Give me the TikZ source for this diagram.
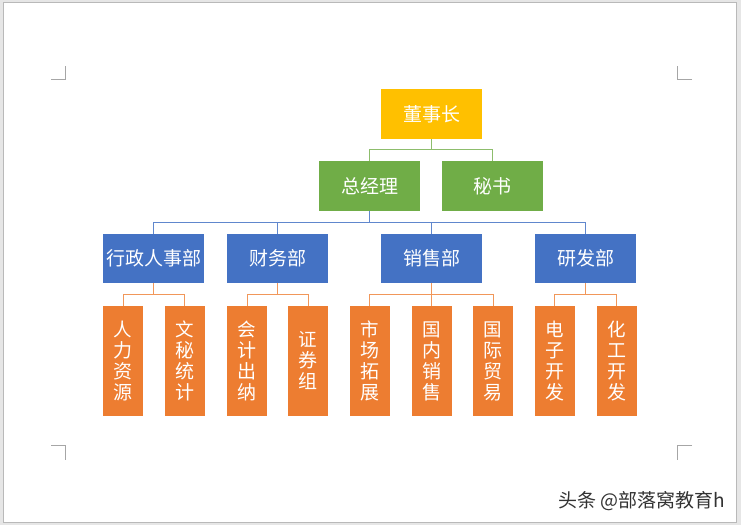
\documentclass[tikz,border=0pt]{standalone}
\usepackage{fontspec}
\newfontfamily\cjk{Noto Sans CJK SC}
\usepackage{xcolor,tikz}
\definecolor{bossyellow}{HTML}{FFC000}
\definecolor{mgrgreen}{HTML}{70AD47}
\definecolor{deptblue}{HTML}{4472C4}
\definecolor{unitorange}{HTML}{ED7D31}
\definecolor{pagegray}{HTML}{E6E6E6}
\newcommand{\vtext}[1]{\fontsize{18.5}{19.5}\selectfont #1}

\begin{document}
\begin{tikzpicture}[x=1pt,y=-1pt, font=\cjk,
                box/.style = {draw=none, text=white, inner sep=0pt, font=\cjk\fontsize{19}{21}\selectfont},
                boss/.style = {box, fill=bossyellow, minimum width=101pt, minimum height=50pt},
                manager/.style = {box, fill=mgrgreen, minimum width=101pt, minimum height=50pt},
                dept/.style = {box, fill=deptblue, minimum width=101pt, minimum height=49pt},
                unit/.style = {box, fill=unitorange, minimum width=40pt, minimum height=110pt, align=center},
                bossline/.style = {color=mgrgreen!80!white, line width=1pt},
                deptline/.style = {color=deptblue!85!white, line width=1pt},
                unitline/.style = {color=unitorange!80!white, line width=1pt},
                cropmark/.style = {color=gray!70, line width=0.8pt}]
                % page
                \fill[pagegray] (0,0) rectangle (741,525);
                \filldraw[fill=white, draw=gray!55, line width=0.6pt] (3,2) rectangle (736,522);
                \useasboundingbox (0,0) rectangle (741,525);
                % corner marks
                \draw[cropmark] (51,79) -- (65,79) -- (65,66);
                \draw[cropmark] (692,79) -- (677,79) -- (677,66);
                \draw[cropmark] (51,445) -- (65,445) -- (65,460);
                \draw[cropmark] (692,445) -- (677,445) -- (677,460);
                % boxes
                \node[boss] (1) at (431.5,114) {董事长};
                \node[manager] (2) at (369.5,186) {总经理};
                \node[manager] (3) at (492.5,186) {秘书};
                \node[dept] (4) at (153.5,258.5) {行政人事部};
                \node[dept] (5) at (277.5,258.5) {财务部};
                \node[dept] (6) at (431.5,258.5) {销售部};
                \node[dept] (7) at (585.5,258.5) {研发部};
                \node[unit] (8) at (123,361) {\vtext{人\\力\\资\\源}};
                \node[unit] (9) at (184.5,361) {\vtext{文\\秘\\统\\计}};
                \node[unit] (10) at (247,361) {\vtext{会\\计\\出\\纳}};
                \node[unit] (11) at (308,361) {\vtext{证\\券\\组}};
                \node[unit] (12) at (369.5,361) {\vtext{市\\场\\拓\\展}};
                \node[unit] (13) at (431.5,361) {\vtext{国\\内\\销\\售}};
                \node[unit] (14) at (493,361) {\vtext{国\\际\\贸\\易}};
                \node[unit] (15) at (554.5,361) {\vtext{电\\子\\开\\发}};
                \node[unit] (16) at (616.5,361) {\vtext{化\\工\\开\\发}};
                % connectors
                \draw[bossline] (1.south) -- ++(0,10) -| (2.north);
                \draw[bossline] (1.south) -- ++(0,10) -| (3.north);
                \foreach \d in {4,5,6,7}
                    \draw[deptline] (2.south) -- ++(0,11) -| (\d.north);
                \foreach \p/\c in {4/8,4/9,5/10,5/11,6/12,6/13,6/14,7/15,7/16}
                    \draw[unitline] (\p.south) -- ++(0,11) -| (\c.north);
                % watermark
                \node[anchor=east, text=black!80, font=\cjk\fontsize{19}{21}\selectfont] (wm) at (729,501) {头条 @部落窝教育h};
            \end{tikzpicture}
\end{document}
